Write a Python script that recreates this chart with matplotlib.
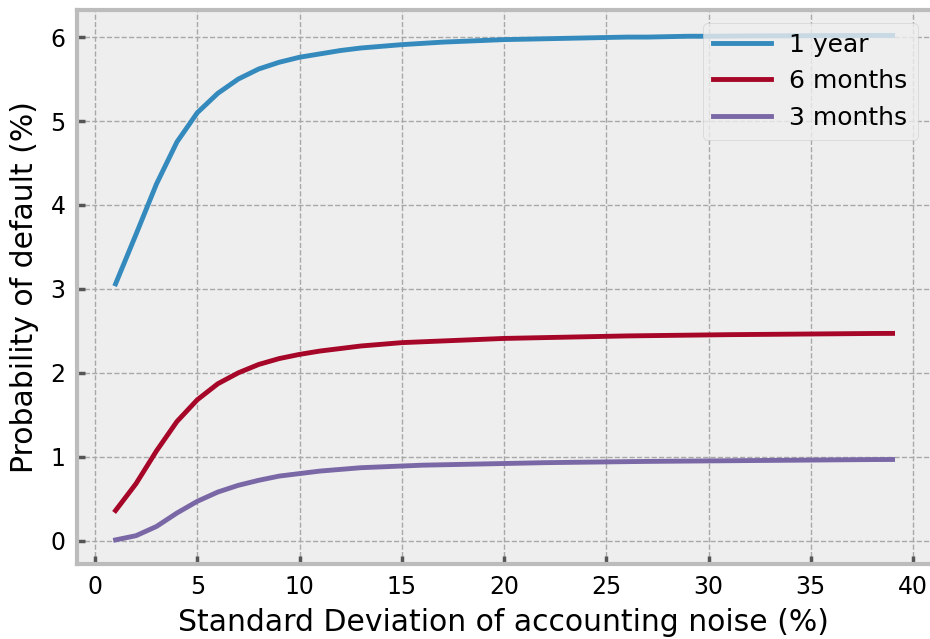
import matplotlib
matplotlib.use("Agg")
import matplotlib.pyplot as plt
import numpy as np

plt.style.use("bmh")

# accounting noise std (%)
noise = np.arange(1, 40)

one_year = [3.06, 3.65, 4.25, 4.75, 5.10, 5.33, 5.50, 5.62, 5.70, 5.76,
            5.80, 5.84, 5.87, 5.89, 5.91, 5.925, 5.94, 5.95, 5.96, 5.97,
            5.975, 5.98, 5.985, 5.99, 5.995, 6.0, 6.0, 6.005, 6.01, 6.01,
            6.012, 6.014, 6.015, 6.016, 6.017, 6.018, 6.019, 6.02, 6.02]
six_months = [0.36, 0.68, 1.07, 1.42, 1.68, 1.87, 2.00, 2.10, 2.17, 2.22,
              2.26, 2.29, 2.32, 2.34, 2.36, 2.37, 2.38, 2.39, 2.40, 2.41,
              2.415, 2.42, 2.425, 2.43, 2.435, 2.44, 2.443, 2.446, 2.449, 2.452,
              2.455, 2.457, 2.459, 2.461, 2.463, 2.465, 2.467, 2.469, 2.47]
three_months = [0.01, 0.06, 0.17, 0.33, 0.47, 0.58, 0.66, 0.72, 0.77, 0.80,
                0.83, 0.85, 0.87, 0.88, 0.89, 0.90, 0.905, 0.91, 0.915, 0.92,
                0.925, 0.93, 0.933, 0.936, 0.939, 0.942, 0.945, 0.947, 0.949, 0.951,
                0.953, 0.955, 0.957, 0.959, 0.961, 0.963, 0.965, 0.967, 0.968]

fig, ax = plt.subplots(figsize=(9.3, 6.39), dpi=100)
ax.plot(noise, one_year, lw=3.5, label="1 year")
ax.plot(noise, six_months, lw=3.5, label="6 months")
ax.plot(noise, three_months, lw=3.5, label="3 months")

ax.grid(True, linestyle="--", color="#a8a8a8", lw=1)
for s in ax.spines.values():
    s.set_linewidth(3)
ax.spines["right"].set_visible(False)  # cut off at the image edge
ax.tick_params(labelsize=17, length=6, width=2.5, color="#555555", pad=8)

ax.set_xlabel("Standard Deviation of accounting noise (%)", fontsize=21.5, labelpad=6)
ax.set_ylabel("Probability of default (%)", fontsize=21.5, labelpad=8)
ax.set_xlim(-0.9, 40.83)
ax.set_ylim(-0.28, 6.32)
ax.legend(loc="upper right", fontsize=18, handlelength=2.3, handletextpad=0.75,
          labelspacing=0.5)

fig.subplots_adjust(left=0.0825, right=1.0, top=0.984, bottom=0.117)
fig.savefig("out.png", dpi=100)
